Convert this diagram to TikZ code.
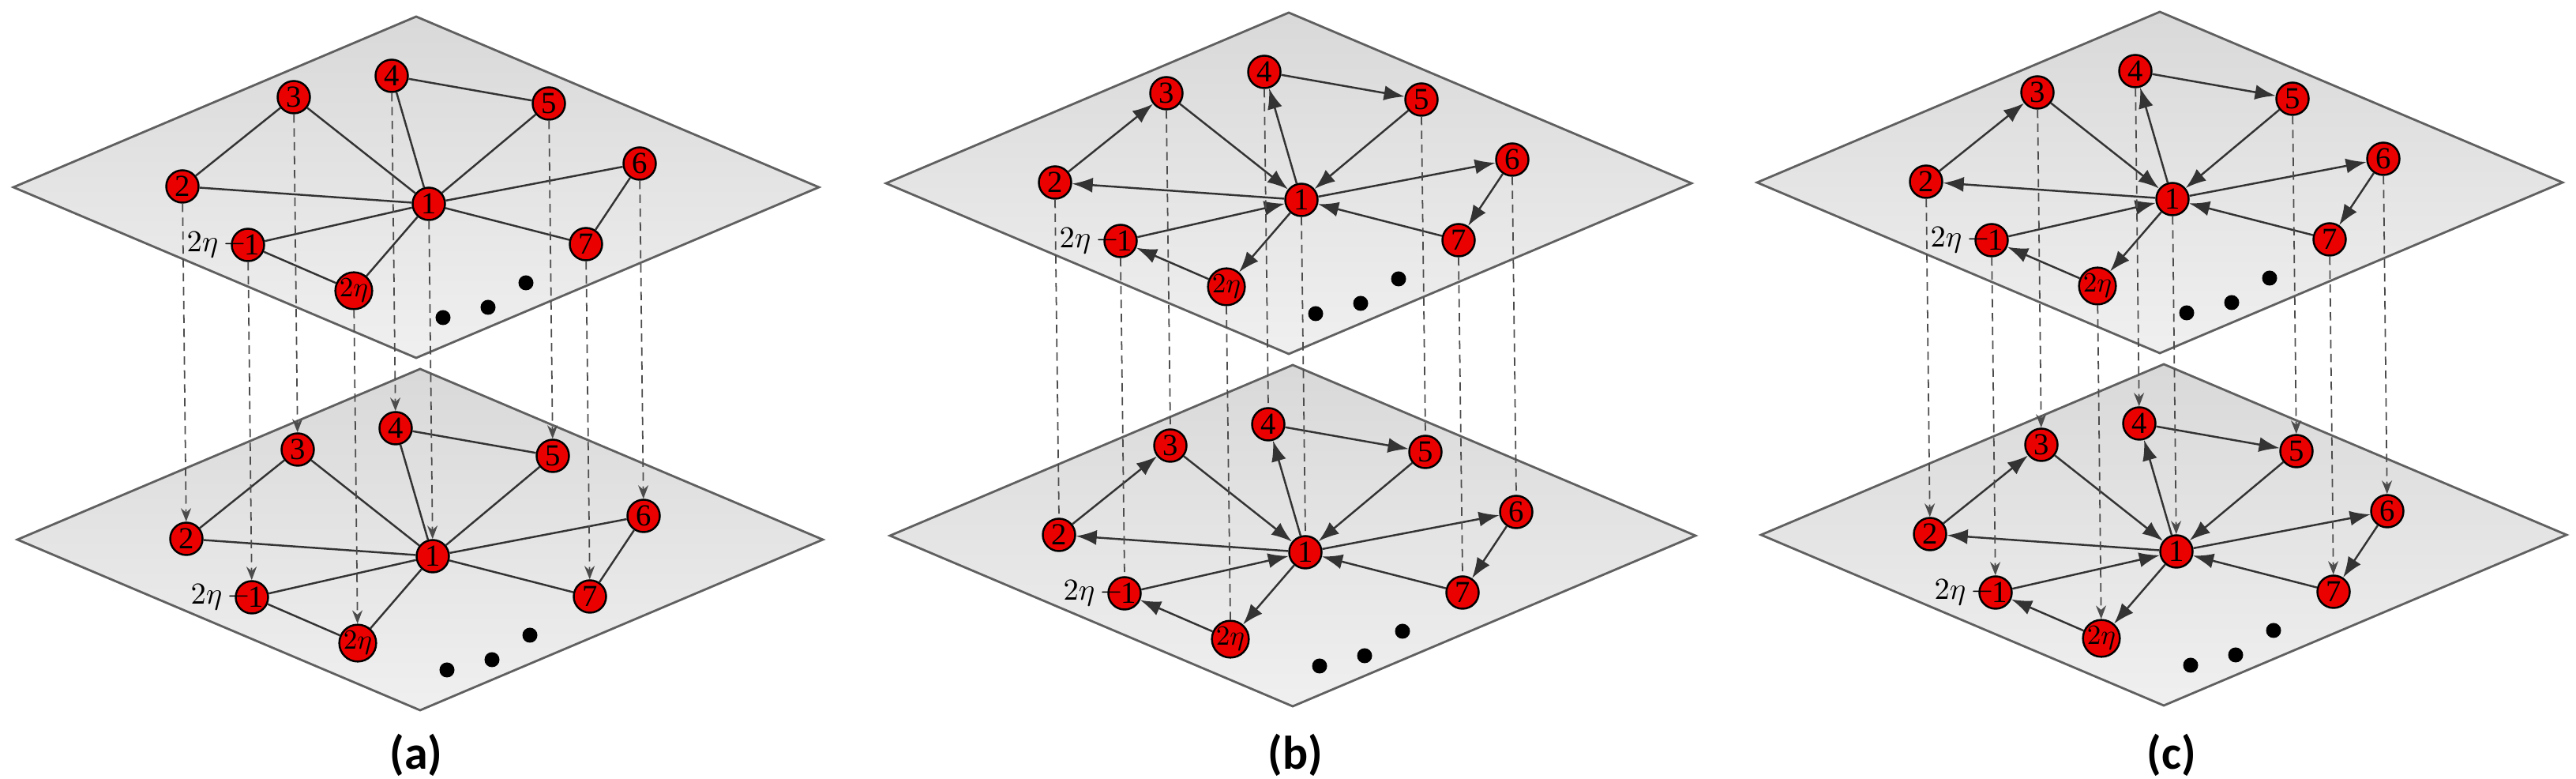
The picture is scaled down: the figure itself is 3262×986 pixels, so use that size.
\documentclass[tikz,border=0pt]{standalone}
\usepackage{fontspec}
\setmainfont{Liberation Serif}
\newfontfamily\lblfont{Carlito}
\usetikzlibrary{arrows.meta}
\begin{document}
\begin{tikzpicture}[x=0.01cm,y=-0.01cm,
  plane/.style={draw=gray!75!black,line width=0.8pt,top color=gray!30,bottom color=gray!12},
  nd/.style={circle,draw=black,fill=red!92!black,line width=0.7pt,minimum size=0.41cm,inner sep=0pt,font=\fontsize{11}{11}\selectfont},
  ed/.style={draw=black!80,line width=0.7pt},
  dir/.style={ed,-{Latex[length=2.6mm,width=1.9mm]}},
  vl/.style={draw=black!70,line width=0.5pt,dash pattern=on 3pt off 2pt},
  va/.style={vl,-{Stealth[length=1.7mm,width=1.3mm]}},
  dotn/.style={circle,fill=black,minimum size=0.19cm,inner sep=0pt},
  paneltitle/.style={font=\lblfont\bfseries\fontsize{17}{17}\selectfont}]
\useasboundingbox (0,0) rectangle (3262,986);
\newcommand\layer[3]{% prefix, dx, dy
 \begin{scope}[shift={(#2,#3)}]
  \path[plane] (17,237) -- (527,21) -- (1037,237) -- (527,453) -- cycle;
  \node[nd] (#1n3) at (372,123) {3};
  \node[nd] (#1n4) at (496,96) {4};
  \node[nd] (#1n5) at (695,131) {5};
  \node[nd] (#1n2) at (231,236) {2};
  \node[nd] (#1n1) at (543,258) {1};
  \node[nd] (#1n6) at (810,207) {6};
  \node[nd,label={[inner sep=0pt,xshift=6pt,font=\fontsize{11}{11}\selectfont]left:$2\eta\,-$}] (#1m) at (314,310) {\hspace*{3pt}1};
  \node[nd] (#1n7) at (742,309) {7};
  \node[nd,font=\fontsize{10}{10}\selectfont] (#1e) at (448,368) {$2\eta$};
  \node[dotn] (#1d1) at (561,402) {};
  \node[dotn] (#1d2) at (618,389) {};
  \node[dotn] (#1d3) at (666,358) {};
 \end{scope}}
\newcommand\undir[1]{%
 \foreach \a/\b in {n3/n2,n3/n1,n4/n1,n4/n5,n5/n1,n2/n1,n6/n1,n6/n7,n7/n1,m/n1,m/e,e/n1}
   \draw[ed] (#1\a) -- (#1\b);}
\newcommand\direct[1]{%
 \foreach \a/\b in {n2/n3,n3/n1,n1/n4,n4/n5,n5/n1,n1/n2,n1/n6,n6/n7,n7/n1,m/n1,n1/e,e/m}
   \draw[dir] (#1\a) -- (#1\b);}
% panel a
\layer{at}{0}{0}
\layer{ab}{5}{446}
\undir{at}\undir{ab}
\foreach \n in {n2,n3,n4,n5,n1,n6,n7,m,e} \draw[va] (at\n) -- (ab\n);
% panel b
\layer{bt}{1105}{-5}
\layer{bb}{1110}{441}
\direct{bt}\direct{bb}
\foreach \n in {n2,n3,n4,n5,n1,n6,n7,m,e} \draw[vl] (bt\n.south) -- (bb\n.north);
% panel c
\layer{ct}{2208}{-6}
\layer{cb}{2213}{440}
\direct{ct}\direct{cb}
\foreach \n in {n2,n3,n4,n5,n1,n6,n7,m,e} \draw[va] (ct\n) -- (cb\n);
\node[paneltitle] (la) at (527,956) {(a)};
\node[paneltitle] (lb) at (1640,956) {(b)};
\node[paneltitle] (lc) at (2750,956) {(c)};
\end{tikzpicture}
\end{document}
